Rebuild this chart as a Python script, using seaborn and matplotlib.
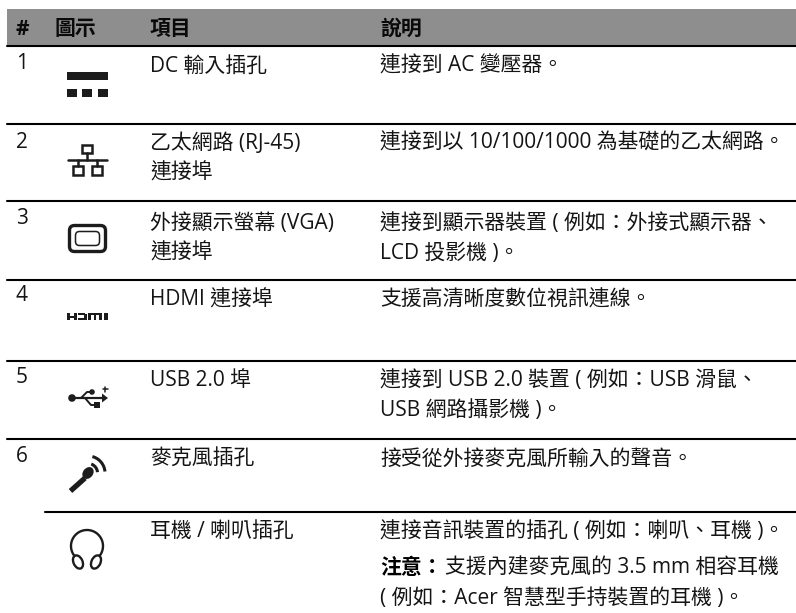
import numpy as np
import pandas as pd
import seaborn as sns
import matplotlib.pyplot as plt
from matplotlib.patches import Rectangle, FancyBboxPatch, Ellipse, Circle, Polygon

# table content
header_labels = ['#', '圖示', '項目', '說明']
row_numbers = ['1', '2', '3', '4', '5', '6']
item_lines = [
    ['DC 輸入插孔'],
    ['乙太網路 (RJ-45)', '連接埠'],
    ['外接顯示螢幕 (VGA)', '連接埠'],
    ['HDMI 連接埠'],
    ['USB 2.0 埠'],
    ['麥克風插孔'],
    ['耳機 / 喇叭插孔'],
]
desc_lines = [
    ['連接到 AC 變壓器。'],
    ['連接到以 10/100/1000 為基礎的乙太網路。'],
    ['連接到顯示器裝置 ( 例如：外接式顯示器、', 'LCD 投影機 )。'],
    ['支援高清晰度數位視訊連線。'],
    ['連接到 USB 2.0 裝置 ( 例如：USB 滑鼠、', 'USB 網路攝影機 )。'],
    ['接受從外接麥克風所輸入的聲音。'],
    ['連接音訊裝置的插孔 ( 例如：喇叭、耳機 )。'],
]
note_label = '注意：'
note_first = '支援內建麥克風的 3.5 mm 相容耳機'
note_second = '( 例如：Acer 智慧型手持裝置的耳機 )。'

# layout, in pixels of the page
W, H = 796, 613
col_x = [15, 54, 150, 380]
row_base = [72, 149, 229, 306, 386, 465, 537]
number_base = [69, 148, 224, 301, 383, 462]
line_gap = 30
rule_y = [46, 124, 201, 280, 361, 439, 512]
rule_start = [7, 7, 7, 7, 7, 7, 45]
FS = 15.0

sns.set_theme(style='white')
plt.rcParams['font.family'] = ['Open Sans', 'Noto Sans CJK TC', 'DejaVu Sans']

fig = plt.figure(figsize=(W / 100, H / 100), dpi=100)

# grey header band
band_ax = fig.add_axes([7 / W, 1 - 45 / H, (W - 7) / W, 36 / H])
sns.heatmap(np.zeros((1, 1)), ax=band_ax, cbar=False, cmap=['#8e8e8e'],
            xticklabels=False, yticklabels=False)

ax = fig.add_axes([0, 0, 1, 1])
ax.patch.set_alpha(0)

# row rules
rules = pd.DataFrame({
    'rule': np.repeat(np.arange(len(rule_y)), 2),
    'x': np.ravel([[s, W] for s in rule_start]),
    'y': np.repeat(rule_y, 2),
})
sns.lineplot(data=rules, x='x', y='y', units='rule', estimator=None, color='black',
             linewidth=1.5, ax=ax, legend=False)
ax.set_xlim(0, W)
ax.set_ylim(H, 0)
ax.axis('off')

# text
TEXT = '#141414'
for x, label in zip(col_x, header_labels):
    ax.text(x, 35, label, fontsize=FS, fontweight='bold', color='#0a0a0a', va='baseline')
for base, label in zip(number_base, row_numbers):
    ax.text(16, base, label, fontsize=FS, color=TEXT, va='baseline')
for base, lines in zip(row_base, item_lines):
    for i, line in enumerate(lines):
        ax.text(col_x[2], base + i * line_gap, line, fontsize=FS, color=TEXT, va='baseline')
for base, lines in zip(row_base, desc_lines):
    for i, line in enumerate(lines):
        ax.text(col_x[3], base + i * line_gap, line, fontsize=FS, color=TEXT, va='baseline')
ax.text(col_x[3], 574, note_label, fontsize=FS, fontweight='bold', color='black', va='baseline')
ax.text(col_x[3] + 65, 574, note_first, fontsize=FS, color=TEXT, va='baseline')
ax.text(col_x[3], 604, note_second, fontsize=FS, color=TEXT, va='baseline')

INK = '#1c1c1c'


def box(x0, y0, x1, y1, **kw):
    ax.add_patch(Rectangle((x0, y0), x1 - x0, y1 - y0, **kw))


# dc icon
box(67, 72, 108, 80, color=INK, lw=0)
for x0, x1 in [(67, 77), (82, 92), (98, 108)]:
    box(x0, 89, x1, 97, color=INK, lw=0)

# network icon
for x0, y0, x1, y1 in [(82, 145, 92, 153), (73, 166, 83, 175), (92, 166, 102, 175)]:
    box(x0, y0, x1, y1, fill=False, ec=INK, lw=1.8)
ax.plot([68, 107], [160, 160], color=INK, lw=1.8)
ax.plot([87, 87], [153, 160], color=INK, lw=1.8)
ax.plot([78, 78], [160, 166], color=INK, lw=1.8)
ax.plot([97, 97], [160, 166], color=INK, lw=1.8)

# vga icon
ax.add_patch(FancyBboxPatch((71, 227), 33, 23, boxstyle='round,pad=1.5,rounding_size=5',
                            fill=False, ec=INK, lw=2.4))
ax.add_patch(FancyBboxPatch((75.5, 231.5), 24, 14, boxstyle='round,pad=0,rounding_size=4',
                            fill=False, ec=INK, lw=1.1))

# hdmi icon
for x0, y0, x1, y1 in [(67, 313, 70, 320), (73.5, 313, 76.5, 320), (67, 315.5, 76, 317.5),
                       (77.5, 313, 85, 315), (77.5, 318, 85, 320), (83.5, 313.5, 86.5, 319.5),
                       (88, 313, 102, 315), (88, 313, 90.5, 320), (93.5, 313, 96, 320),
                       (99, 313, 101.5, 320), (103.5, 313, 107.5, 320)]:
    box(x0, y0, x1, y1, color=INK, lw=0)

# usb icon
ax.add_patch(Circle((72, 398), 3.8, color=INK, lw=0))
ax.plot([72, 103], [398, 398], color=INK, lw=1.6)
ax.add_patch(Polygon([[102, 393.5], [108, 398], [102, 402.5]], color=INK, lw=0))
ax.plot([81, 87, 92], [398, 392, 392], color=INK, lw=1.4)
ax.add_patch(Circle((92, 392), 2.8, color=INK, lw=0))
ax.plot([85, 91, 97], [398, 405, 405], color=INK, lw=1.4)
box(94, 402, 99.5, 408, color=INK, lw=0)
ax.plot([102.5, 107.5], [389, 389], color=INK, lw=1.1)
ax.plot([105, 105], [386.5, 391.5], color=INK, lw=1.1)

# mic icon
ax.plot([70.5, 85], [491, 478], color=INK, lw=3.8, solid_capstyle='butt')
ax.add_patch(Ellipse((88, 473), 10, 13, angle=40, color=INK, lw=0))
for r, a0, a1 in [(9.5, -70, -5), (17, -75, -5)]:
    t = np.radians(np.linspace(a0, a1, 30))
    ax.plot(88 + r * np.cos(t), 473 + r * np.sin(t), color=INK, lw=2.2, solid_capstyle='butt')

# headphone icon
t = np.radians(np.linspace(-38, 218, 60))
ax.plot(87 + 16 * np.cos(t), 546 - 16 * np.sin(t), color=INK, lw=1.7)
ax.add_patch(Ellipse((78, 562), 9, 14, angle=-25, fill=False, ec=INK, lw=1.7))
ax.add_patch(Ellipse((96, 562), 9, 14, angle=25, fill=False, ec=INK, lw=1.7))

plt.savefig('out.png', dpi=100)
plt.close()
